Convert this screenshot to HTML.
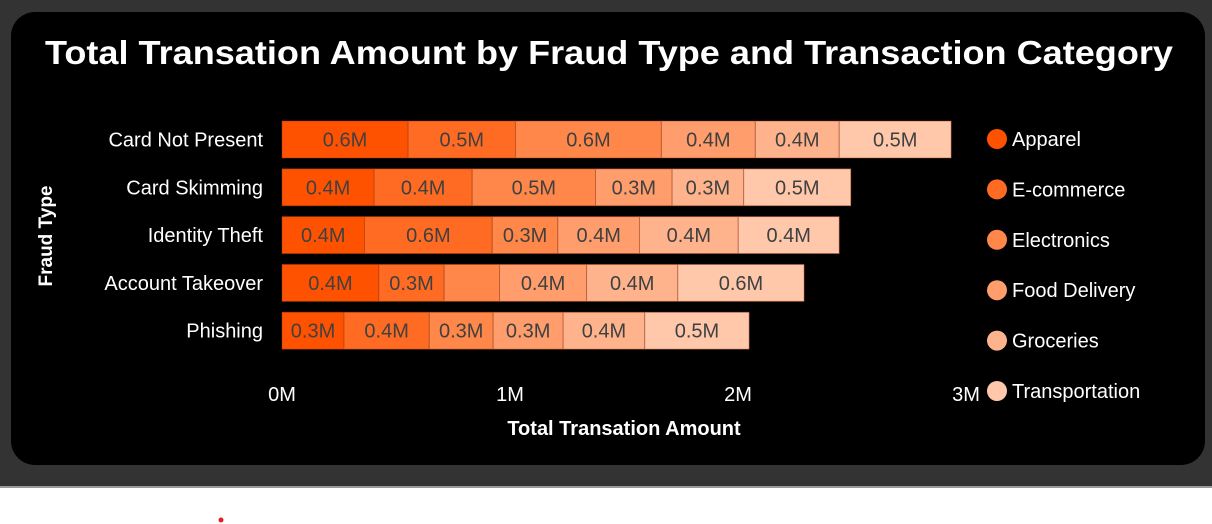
<!DOCTYPE html>
<html><head><meta charset="utf-8"><style>
html,body{margin:0;padding:0;width:1212px;height:524px;overflow:hidden;background:#fff}
svg{display:block}
text{font-family:"Liberation Sans",sans-serif}
</style></head><body>
<svg id="chart" width="1212" height="524" xmlns="http://www.w3.org/2000/svg">
<rect x="0" y="0" width="1212" height="487" fill="#333333"/>
<rect x="0" y="486" width="1212" height="2" fill="#9a9a9a"/>
<rect x="11" y="12" width="1194" height="453" rx="24" fill="#000"/>
<circle cx="221" cy="520" r="2.5" fill="#e02020"/>
<text x="609" y="64" text-anchor="middle" fill="#fff" font-size="33" font-weight="bold" textLength="1128" lengthAdjust="spacingAndGlyphs">Total Transation Amount by Fraud Type and Transaction Category</text>
<text transform="translate(52,236) rotate(-90)" text-anchor="middle" fill="#fff" font-size="19" font-weight="bold">Fraud Type</text>
<text x="624" y="435" text-anchor="middle" fill="#fff" font-size="20" font-weight="bold">Total Transation Amount</text>
<g id="plot"></g>
</svg>
<script>
const fraudTypes = ["Card Not Present","Card Skimming","Identity Theft","Account Takeover","Phishing"];
const categories = ["Apparel","E-commerce","Electronics","Food Delivery","Groceries","Transportation"];
const apparel = [0.553,0.404,0.362,0.425,0.272];
const ecommerce = [0.471,0.430,0.560,0.286,0.374];
const electronics = [0.640,0.541,0.288,0.243,0.280];
const foodDelivery = [0.412,0.336,0.358,0.382,0.307];
const groceries = [0.368,0.314,0.433,0.400,0.358];
const transportation = [0.491,0.470,0.443,0.554,0.458];
const xTicks = [0,1,2,3];
const xTickLabels = ["0M","1M","2M","3M"];
const colors = ["#ff5200","#ff6b22","#ff874a","#ff9e6c","#ffb38d","#ffc8aa"];

const NS = "http://www.w3.org/2000/svg";
const plot = document.getElementById("plot");
const x0 = 282, pxPerM = 228;
function xScale(v){ return x0 + v*pxPerM; }
function yScale(i){ return 121 + i*47.8; }
const barH = 37;
function mk(tag, attrs){ const e=document.createElementNS(NS,tag); for(const k in attrs) e.setAttribute(k,attrs[k]); plot.appendChild(e); return e; }
const series = [apparel,ecommerce,electronics,foodDelivery,groceries,transportation];

fraudTypes.forEach((ft,i)=>{
  const y = yScale(i);
  const lbl = mk("text",{x:263,y:y+barH/2+7,"text-anchor":"end",fill:"#fff","font-size":"20"});
  lbl.textContent = ft;
  
  
  let acc = 0;
  series.forEach((s,j)=>{
    const v = s[i];
    const xa = xScale(acc), xb = xScale(acc+v);
    const r = mk("rect",{x:xa,y:y,width:xb-xa,height:barH,fill:colors[j],stroke:"rgba(150,60,20,0.45)","stroke-width":"1"});
    
    
    if (xb-xa > 60) {
      const t = mk("text",{x:(xa+xb)/2,y:y+barH/2+7,"text-anchor":"middle",fill:"#404040","font-size":"20"});
      t.textContent = v.toFixed(1) + "M";
      
      
    }
    acc += v;
  });
});

xTicks.forEach((v,k)=>{
  const t = mk("text",{x:xScale(v),y:401,"text-anchor":"middle",fill:"#fff","font-size":"20"});
  t.textContent = xTickLabels[k];
  
  
});

categories.forEach((c,j)=>{
  const cy = 139 + j*50.4;
  const dot = mk("circle",{cx:997,cy:cy,r:10,fill:colors[j]});
  
  
  const t = mk("text",{x:1012,y:cy+7,fill:"#fff","font-size":"20"});
  t.textContent = c;
  
  
});
</script>
</body></html>
